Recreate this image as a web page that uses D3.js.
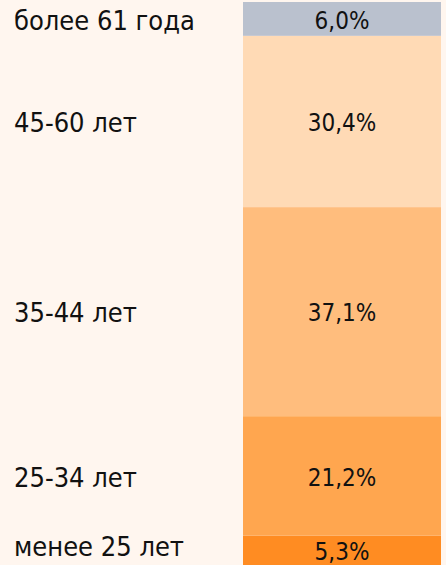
<!DOCTYPE html>
<html>
<head>
<meta charset="utf-8">
<script src="https://cdn.jsdelivr.net/npm/d3@7"></script>
<style>
  html, body { margin: 0; padding: 0; background: #FFF6EF; }
  svg { display: block; }
  text { font-family: "DejaVu Sans Condensed", "DejaVu Sans", sans-serif; fill: #111; }
</style>
</head>
<body>
<svg id="chart" width="446" height="565"></svg>
<script>
// Age groups, from the bottom of the stack to the top
const categories = ["менее 25 лет", "25-34 лет", "35-44 лет", "45-60 лет", "более 61 года"];
const shares = [5.3, 21.2, 37.1, 30.4, 6.0];
const valueLabels = ["5,3%", "21,2%", "37,1%", "30,4%", "6,0%"];
const colors = ["#FF8C22", "#FFA64F", "#FFBD7D", "#FFDAB5", "#BAC1CE"];

const W = 446, H = 565;
const svg = d3.select("#chart");

// Cumulative stack of the shares
const stacked = [];
let acc = 0;
shares.forEach((v, i) => {
  stacked.push({ cat: categories[i], v, lbl: valueLabels[i], color: colors[i], y0: acc, y1: acc + v });
  acc += v;
});

const y = d3.scaleLinear().domain([0, 100]).range([565.5, 2]);
const x = d3.scaleBand().domain(["all"]).range([243, 441]).padding(0);

const g = svg.append("g");

g.selectAll("rect.seg")
  .data(stacked)
  .join("rect")
  .attr("class", "seg")
  .attr("x", x("all"))
  .attr("width", x.bandwidth())
  .attr("y", d => y(d.y1))
  .attr("height", d => y(d.y0) - y(d.y1))
  .attr("fill", d => d.color);

// Middle of the visible part of each segment
const mid = d => (Math.max(y(d.y1), 0) + Math.min(y(d.y0), H)) / 2;

// Values inside the bar
g.selectAll("text.val")
  .data(stacked)
  .join("text")
  .attr("class", "val")
  .attr("x", x("all") + x.bandwidth() / 2)
  .attr("y", d => Math.min(mid(d), H - 14))
  .attr("dy", "0.4em")
  .attr("text-anchor", "middle")
  .style("font-size", "24px")
  .text(d => d.lbl);

// Category names on the left
g.selectAll("text.cat")
  .data(stacked)
  .join("text")
  .attr("class", "cat")
  .attr("x", 14)
  .attr("y", d => Math.min(mid(d), H - 20))
  .attr("dy", "0.4em")
  .style("font-size", "27px")
  .text(d => d.cat);
</script>
</body>
</html>
